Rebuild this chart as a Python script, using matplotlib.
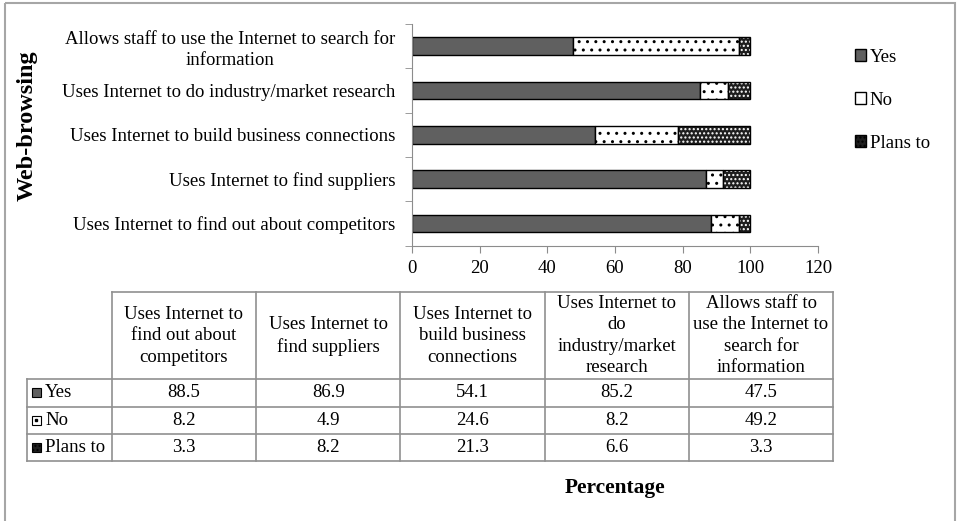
import numpy as np
import matplotlib
matplotlib.use("Agg")
import matplotlib.pyplot as plt
from matplotlib.patches import Patch, Rectangle

plt.rcParams['font.family'] = ['Liberation Serif', 'DejaVu Sans']

# survey results, % of firms (bottom bar first)
features = [
    "Uses Internet to find out about competitors",
    "Uses Internet to find suppliers",
    "Uses Internet to build business connections",
    "Uses Internet to do industry/market research",
    "Allows staff to use the Internet to search for\ninformation",
]
table_headers = [
    "Uses Internet to\nfind out about\ncompetitors",
    "Uses Internet to\nfind suppliers",
    "Uses Internet to\nbuild business\nconnections",
    "Uses Internet to\ndo\nindustry/market\nresearch",
    "Allows staff to\nuse the Internet to\nsearch for\ninformation",
]
series_names = ["Yes", "No", "Plans to"]
yes = [88.5, 86.9, 54.1, 85.2, 47.5]
no = [8.2, 4.9, 24.6, 8.2, 49.2]
plans = [3.3, 8.2, 21.3, 6.6, 3.3]

W, H = 958, 521
fig = plt.figure(figsize=(W / 100, H / 100), dpi=100)
FS = 13.5
grey = '#8c8c8c'

ax = fig.add_axes([412 / W, 1 - 245.7 / H, 406 / W, 221.7 / H])
y = np.arange(len(features))
left_no = np.array(yes)
left_pl = left_no + np.array(no)
ax.barh(y, yes, height=0.4, color='#606060', edgecolor='black', lw=1)
ax.barh(y, no, left=left_no, height=0.4, color='white', edgecolor='black',
        hatch='..', lw=1)
ax.barh(y, plans, left=left_pl, height=0.4, color='#1e1e1e', edgecolor='white',
        hatch='....', lw=0)
ax.barh(y, plans, left=left_pl, height=0.4, fill=False, edgecolor='black', lw=1)

ax.set_xlim(0, 120)
ax.set_ylim(-0.5, len(features) - 0.5)
ax.set_xticks(np.arange(0, 121, 20))
ax.set_yticks(y, features, multialignment='center', linespacing=1.3)
ax.set_yticks(np.arange(-0.5, len(features), 1), minor=True)
ax.tick_params(axis='y', which='major', length=0, pad=12, labelsize=FS)
ax.tick_params(axis='y', which='minor', length=5, color=grey)
ax.tick_params(axis='x', length=5, color=grey, pad=5, labelsize=FS)
for s in ['top', 'right']:
    ax.spines[s].set_visible(False)
for s in ['left', 'bottom']:
    ax.spines[s].set_color(grey)

# legend on the right
handles = [
    Patch(facecolor='#606060', edgecolor='black'),
    Patch(facecolor='white', edgecolor='black'),
    Patch(facecolor='#1e1e1e', edgecolor='black', hatch='....'),
]
fig.legend(handles, series_names, loc='upper left',
           bbox_to_anchor=(838 / W, 1 - 32 / H), frameon=False, fontsize=FS,
           handlelength=0.6, handleheight=0.6, handletextpad=0.2,
           labelspacing=1.38)

# overlay in pixel units for the frame and the data table
ov = fig.add_axes([0, 0, 1, 1])
ov.set_xlim(0, W)
ov.set_ylim(H, 0)
ov.axis('off')
ov.add_patch(Rectangle((5, 3), 950, 540, fill=False, ec='#a6a6a6', lw=1.5))

col_x = [26.7, 111.7] + [111.7 + 144.3 * (i + 1) for i in range(5)]
row_y = [292.3, 379, 406.5, 434, 461.3]
lc = '#909090'
# header row (no corner cell)
ov.plot([col_x[1], col_x[-1]], [row_y[0]] * 2, color=lc, lw=1.2)
for yy in row_y[1:]:
    ov.plot([col_x[0], col_x[-1]], [yy] * 2, color=lc, lw=1.2)
ov.plot([col_x[0]] * 2, [row_y[1], row_y[-1]], color=lc, lw=1.2)
for xx in col_x[1:]:
    ov.plot([xx] * 2, [row_y[0], row_y[-1]], color=lc, lw=1.2)

for i, txt in enumerate(table_headers):
    cx = (col_x[i + 1] + col_x[i + 2]) / 2
    ov.text(cx, (row_y[0] + row_y[1]) / 2, txt, ha='center', va='center',
            fontsize=FS, linespacing=1.35, multialignment='center')

for r, vals in enumerate([yes, no, plans]):
    cy = (row_y[r + 1] + row_y[r + 2]) / 2
    ov.add_patch(Rectangle((32, cy - 4.5), 9, 9, facecolor=handles[r].get_facecolor(),
                           edgecolor='black', lw=0.8,
                           hatch=handles[r].get_hatch()))
    if r == 1:
        ov.plot([36.5], [cy], marker='s', ms=1.5, color='black')
    ov.text(45, cy, series_names[r], ha='left', va='center', fontsize=FS)
    for i, v in enumerate(vals):
        cx = (col_x[i + 1] + col_x[i + 2]) / 2
        ov.text(cx, cy, f"{v:.1f}", ha='center', va='center', fontsize=FS)

fig.text(615 / W, 1 - 488 / H, "Percentage", ha='center', va='center',
         fontsize=15.4, fontweight='bold')
fig.text(27 / W, 1 - 126 / H, "Web-browsing", ha='center', va='center',
         rotation=90, fontsize=17.5, fontweight='bold')

fig.savefig("out.png", dpi=100)
